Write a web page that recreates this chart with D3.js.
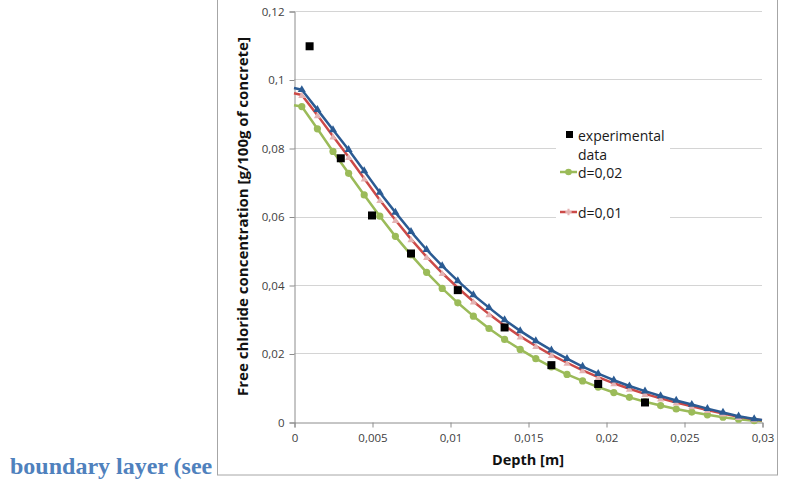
<!DOCTYPE html>
<html>
<head>
<meta charset="utf-8">
<script src="https://cdn.jsdelivr.net/npm/d3@7"></script>
<style>
body { margin: 0; background: #fff; }
svg { display: block; }
</style>
</head>
<body>
<div id="wrapper"></div>
<script>
// depth [m]
const depth = [0, 0.0005, 0.0015, 0.0025, 0.0035, 0.0045, 0.0055, 0.0065, 0.0075, 0.0085, 0.0095,
    0.0105, 0.0115, 0.0125, 0.0135, 0.0145, 0.0155, 0.0165, 0.0175, 0.0185, 0.0195,
    0.0205, 0.0215, 0.0225, 0.0235, 0.0245, 0.0255, 0.0265, 0.0275, 0.0285, 0.0295, 0.03]

const seriesBlue = [0.0975, 0.0970, 0.0912, 0.0853, 0.0795, 0.0733, 0.0670, 0.0612, 0.0556, 0.0503, 0.0456,
    0.0412, 0.0371, 0.0334, 0.0298, 0.0266, 0.0237, 0.0210, 0.0185, 0.0162, 0.0141,
    0.0122, 0.0105, 0.0090, 0.0076, 0.0063, 0.0051, 0.0039, 0.0028, 0.0017, 0.0009, 0.0006]

const seriesRed = [0.0960, 0.0955, 0.0896, 0.0834, 0.0774, 0.0711, 0.0648, 0.0590, 0.0534, 0.0482, 0.0435,
    0.0392, 0.0352, 0.0315, 0.0281, 0.0250, 0.0222, 0.0196, 0.0173, 0.0151, 0.0131,
    0.0113, 0.0097, 0.0082, 0.0069, 0.0057, 0.0046, 0.0035, 0.0025, 0.0015, 0.0008, 0.0005]

const seriesGreen = [0.0925, 0.0921, 0.0856, 0.0790, 0.0726, 0.0663, 0.0601, 0.0542, 0.0488, 0.0437, 0.0390,
    0.0348, 0.0309, 0.0273, 0.0241, 0.0212, 0.0185, 0.0161, 0.0139, 0.0120, 0.0102,
    0.0086, 0.0072, 0.0059, 0.0048, 0.0038, 0.0029, 0.0021, 0.0014, 0.0008, 0.0004, 0.0003]

const expDepth = [0.001, 0.003, 0.005, 0.0075, 0.0105, 0.0135, 0.0165, 0.0195, 0.0225]
const expValue = [0.1097, 0.0770, 0.0603, 0.0492, 0.0385, 0.0276, 0.0166, 0.0111, 0.0057]

const xTicks = [0, 0.005, 0.01, 0.015, 0.02, 0.025, 0.03]
const xTickLabels = ['0', '0,005', '0,01', '0,015', '0,02', '0,025', '0,03']
const yTicks = [0, 0.02, 0.04, 0.06, 0.08, 0.1, 0.12]
const yTickLabels = ['0', '0,02', '0,04', '0,06', '0,08', '0,1', '0,12']

const legendLabels = ['experimental', 'data', 'd=0,02', 'd=0,01']

const colors = { blue: '#2b5b93', red: '#cc4a48', redMark: '#e4b3b3', green: '#9bbb59' }

let dimensions = {
    width: 785,
    height: 481,
    plot: { left: 294, right: 762, top: 11, bottom: 422 }
}

let svg = d3.select("#wrapper")
    .append("svg")
    .attr("width", dimensions.width)
    .attr("height", dimensions.height)

// chart frame
svg.append("rect")
    .attr("x", 217.5).attr("y", -2)
    .attr("width", 560).attr("height", 477)
    .attr("fill", "white")
    .attr("stroke", "#a6a6a6")
    .attr("stroke-width", 1)

// side text from the document
svg.append("text")
    .attr("x", 10).attr("y", 474)
    .attr("font-family", "'Liberation Serif', 'Times New Roman', serif")
    .attr("font-weight", "bold")
    .attr("font-size", "24px")
    .attr("fill", "#4f81bd")
    .text("boundary layer (see")

let x = d3.scaleLinear().domain([0, 0.03]).range([dimensions.plot.left, dimensions.plot.right])
let y = d3.scaleLinear().domain([0, 0.12]).range([dimensions.plot.bottom, dimensions.plot.top])

// gridlines
svg.append("g")
    .selectAll("line")
    .data(yTicks.slice(1))
    .enter()
    .append("line")
    .attr("x1", x(0)).attr("x2", x(0.03))
    .attr("y1", d => Math.round(y(d)) + 0.5).attr("y2", d => Math.round(y(d)) + 0.5)
    .attr("stroke", "#d4d4d4")
    .attr("stroke-width", 1)

// axes
let yAxis = d3.axisLeft(y)
    .tickValues(yTicks)
    .tickFormat((d, i) => yTickLabels[i])
    .tickSize(5)
    .tickPadding(5)
let xAxis = d3.axisBottom(x)
    .tickValues(xTicks)
    .tickFormat((d, i) => xTickLabels[i])
    .tickSize(5)
    .tickPadding(6)

let gy = svg.append("g")
    .attr("transform", `translate(${dimensions.plot.left + 0.5},0.5)`)
    .call(yAxis)
let gx = svg.append("g")
    .attr("transform", `translate(0.5,${dimensions.plot.bottom + 0.5})`)
    .call(xAxis)

;[gx, gy].forEach(g => {
    g.select(".domain").attr("stroke", "#8c8c8c")
    g.selectAll(".tick line").attr("stroke", "#8c8c8c")
    g.selectAll(".tick text")
        .attr("fill", "#404040")
        .attr("font-family", "'Open Sans', sans-serif")
        .attr("font-size", "11.5px")
})

// axis titles
svg.append("text")
    .attr("x", x(0.015)).attr("y", 465)
    .attr("text-anchor", "middle")
    .attr("font-family", "'Open Sans', sans-serif")
    .attr("font-weight", "bold")
    .attr("font-size", "14.5px")
    .attr("fill", "#111")
    .text("Depth [m]")

svg.append("text")
    .attr("transform", `translate(248,${(dimensions.plot.top + dimensions.plot.bottom) / 2}) rotate(-90)`)
    .attr("text-anchor", "middle")
    .attr("font-family", "'Open Sans', sans-serif")
    .attr("font-weight", "bold")
    .attr("font-size", "15px")
    .attr("fill", "#111")
    .text("Free chloride concentration [g/100g of concrete]")

// series
let line = d3.line().x(d => x(d[0])).y(d => y(d[1]))
let series = [
    { key: 'green', values: seriesGreen, color: colors.green },
    { key: 'red', values: seriesRed, color: colors.red },
    { key: 'blue', values: seriesBlue, color: colors.blue }
]
let tri = d3.symbol().type(d3.symbolTriangle).size(28)
let triSmall = d3.symbol().type(d3.symbolTriangle).size(22)

series.forEach(s => {
    let pts = depth.map((d, i) => [d, s.values[i]])
    svg.append("path")
        .datum(pts)
        .attr("fill", "none")
        .attr("stroke", s.color)
        .attr("stroke-width", 2.5)
        .attr("stroke-linejoin", "round")
        .attr("d", line)

    let marks = svg.append("g")
        .selectAll("path")
        .data(pts.slice(1, pts.length - 1))
        .enter()
    if (s.key === 'green') {
        marks.append("circle")
            .attr("cx", d => x(d[0])).attr("cy", d => y(d[1]))
            .attr("r", 3.6)
            .attr("fill", s.color)
    } else if (s.key === 'red') {
        marks.append("path")
            .attr("transform", d => `translate(${x(d[0])},${y(d[1]) + 1})`)
            .attr("d", triSmall)
            .attr("fill", colors.redMark)
    } else {
        marks.append("path")
            .attr("transform", d => `translate(${x(d[0])},${y(d[1])})`)
            .attr("d", tri)
            .attr("fill", s.color)
    }
})

// experimental data
svg.append("g")
    .selectAll("rect")
    .data(expDepth.map((d, i) => [d, expValue[i]]))
    .enter()
    .append("rect")
    .attr("x", d => x(d[0]) - 4)
    .attr("y", d => y(d[1]) - 4)
    .attr("width", 8).attr("height", 8)
    .attr("fill", "black")

// legend
let legend = svg.append("g")
legend.append("rect")
    .attr("x", 556).attr("y", 124)
    .attr("width", 114).attr("height", 102)
    .attr("fill", "white")

legend.append("rect")
    .attr("x", 566).attr("y", 131)
    .attr("width", 7).attr("height", 7)
    .attr("fill", "black")

legend.append("line")
    .attr("x1", 560).attr("x2", 577)
    .attr("y1", 172).attr("y2", 172)
    .attr("stroke", colors.green).attr("stroke-width", 2.5)
legend.append("circle")
    .attr("cx", 568.5).attr("cy", 172).attr("r", 3.3)
    .attr("fill", colors.green)

legend.append("line")
    .attr("x1", 560).attr("x2", 577)
    .attr("y1", 212).attr("y2", 212)
    .attr("stroke", colors.red).attr("stroke-width", 2.5)
legend.append("path")
    .attr("transform", "translate(568.5,212)")
    .attr("d", d3.symbol().type(d3.symbolCross).size(22))
    .attr("fill", colors.redMark)

let legendY = [141, 160, 178, 218]
legend.selectAll("text")
    .data(legendLabels)
    .enter()
    .append("text")
    .attr("x", 578)
    .attr("y", (d, i) => legendY[i])
    .attr("font-family", "'Open Sans', sans-serif")
    .attr("font-size", "14px")
    .attr("fill", "#1a1a1a")
    .text(d => d)
</script>
</body>
</html>
